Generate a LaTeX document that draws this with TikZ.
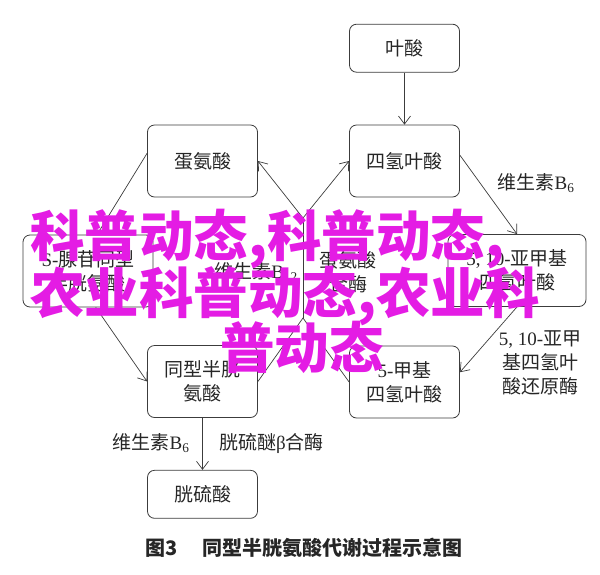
\documentclass[tikz,border=0pt]{standalone}
\usepackage{fontspec}
\setmainfont{Liberation Serif}
\newfontfamily\cjk{Noto Sans CJK SC}
\usetikzlibrary{
  arrows.meta,
  positioning
}
\definecolor{boxline}{RGB}{60,60,60}
\definecolor{stamp}{RGB}{228,28,228}

\begin{document}
\begin{tikzpicture}[
  x=1pt, y=-1pt,
  node distance=52pt,
  every node/.style={
    font=\cjk\fontsize{19}{24}\selectfont,
    text=black!85,
    inner sep=0pt
  },
  box/.style={
    rectangle,
    draw=boxline,
    line width=0.8pt,
    rounded corners=7pt,
    align=center,
    minimum width=110pt,
    minimum height=72pt
  },
  small box/.style={box, minimum height=48pt},
  flow/.style={draw=boxline, line width=0.7pt, -{Straight Barb[length=8pt,width=12pt]}},
  link/.style={draw=boxline, line width=0.7pt},
  stamp text/.style={
    font=\cjk\bfseries\fontsize{54.5}{54}\selectfont,
    text=stamp,
    anchor=base west
  }
]
\useasboundingbox (0,0) rectangle (600,574);

\node [box] (tetrahydrofolate) at (404.5,161) {四氢叶酸};
\node [small box, above=of tetrahydrofolate] (folic-acid) {叶酸};
\node [box] (methionine) at (202.5,161) {蛋氨酸};
\node [box, minimum width=130pt] (adenosyl-homocysteine) at (88,271) {{\rmfamily S-}腺苷同型\\半胱氨酸};
\node [box, minimum width=138pt] (methylene-thf) at (517,270.5) {{\rmfamily 5, 10-}亚甲基\\四氢叶酸};
\node [box] (homocysteine) at (202.5,381.5) {同型半胱\\氨酸};
\node [box] (methyl-thf) at (404.5,382) {{\rmfamily 5-}甲基\\四氢叶酸};
\node [small box, below=of homocysteine] (cystathionine) {胱硫酸};

\coordinate (synthase-top) at (303,218);
\coordinate (synthase-bottom) at (303,318);

\draw [flow] (folic-acid) -- (tetrahydrofolate);
\draw [flow] (tetrahydrofolate.6) -- (methylene-thf.north);
\draw [flow] (methylene-thf.south) -- (methyl-thf.10);
\draw [flow] (methionine.172) -- (adenosyl-homocysteine.76);
\draw [flow] (adenosyl-homocysteine.-78) -- (homocysteine.west);
\draw [flow] (homocysteine) -- (cystathionine);
\draw [link] (homocysteine.east) -- (synthase-bottom) -- (methyl-thf.west);
\draw [link] (synthase-bottom) -- (synthase-top);
\draw [flow] (synthase-top) -- (methionine.east);
\draw [flow] (synthase-top) -- (tetrahydrofolate.west);

\node (b6-upper) at (536,183) {维生素{\rmfamily B\textsubscript{6}}};
\node [align=center] (reductase) at (540,363) {{\rmfamily 5, 10-}亚甲\\基四氢叶\\酸还原酶};
\node (b12) at (256,272) {维生素{\rmfamily B\textsubscript{12}}};
\node [align=center] (synthase) at (348,272) {蛋氨酸\\合酶};
\node (b6-lower) at (151,443) {维生素{\rmfamily B\textsubscript{6}}};
\node (cbs) at (271.5,443) {胱硫醚{\rmfamily β}合酶};
\node [font=\cjk\bfseries\fontsize{20}{24}\selectfont] (caption) at (304,548) {图3\hspace{1.2em}同型半胱氨酸代谢过程示意图};

\node [stamp text] (stamp-1) at (30,256) {科普动态,科普动态,};
\node [stamp text] (stamp-2) at (30,313) {农业科普动态,农业科};
\node [stamp text] (stamp-3) at (220,368) {普动态};

\end{tikzpicture}
\end{document}
